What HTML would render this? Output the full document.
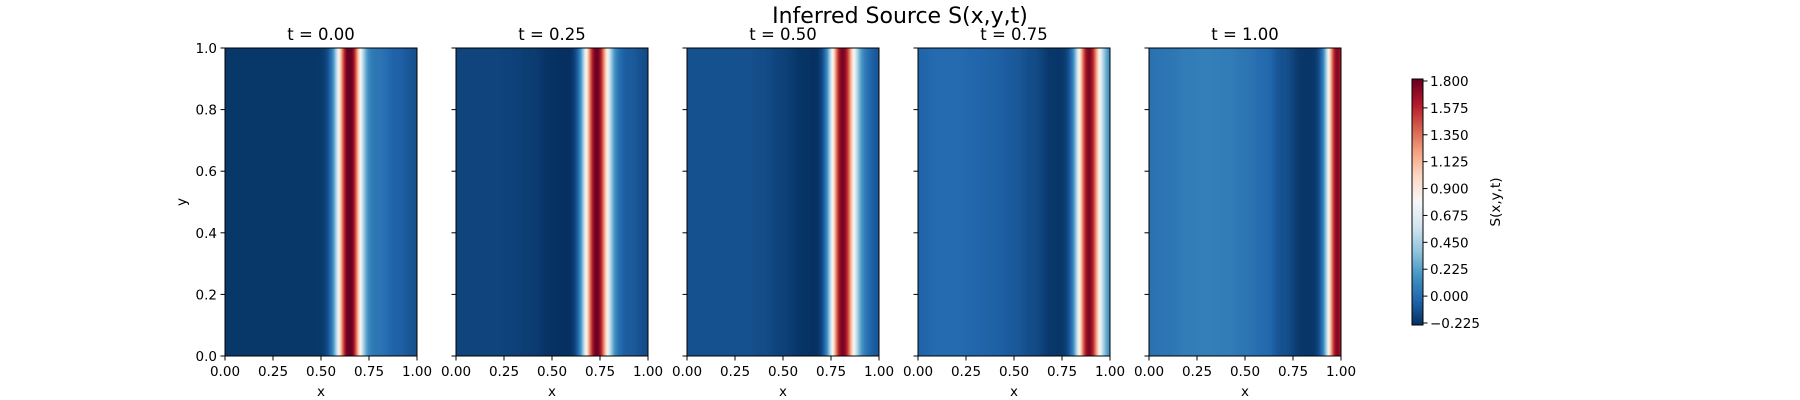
<!DOCTYPE html>
<html><head><meta charset="utf-8"><style>
html,body{margin:0;padding:0;background:#fff;}
#root{position:relative;width:1800px;height:400px;font-family:"DejaVu Sans","Liberation Sans",sans-serif;color:#000;}
.t{position:absolute;white-space:nowrap;}
canvas{position:absolute;}
</style></head><body>
<div id="root">
<div class="t" style="left:0;width:1800px;text-align:center;top:4px;font-size:22px;">Inferred Source S(x,y,t)</div>
<svg id="axes" width="1800" height="400" style="position:absolute;left:0;top:0"></svg>
</div>
<script>
// data
const times = [0.00, 0.25, 0.50, 0.75, 1.00];
const peakCenter = [0.645, 0.73, 0.81, 0.89, 0.98];
const peakAmp = [2.0, 1.95, 1.9, 1.85, 1.75];
const peakWidth = [0.045, 0.045, 0.045, 0.045, 0.04];
// baseline profiles sampled at x = 0,0.1,...,1.0
const baseline = [
  [-0.2,-0.2,-0.2,-0.2,-0.2,-0.2,-0.22,-0.02,0.04,-0.04,-0.1],
  [-0.15,-0.15,-0.15,-0.16,-0.18,-0.22,-0.24,-0.2,0.0,-0.06,-0.12],
  [-0.1,-0.1,-0.1,-0.1,-0.12,-0.16,-0.21,-0.24,-0.15,0.04,-0.08],
  [-0.03,0.0,0.0,-0.02,-0.04,-0.07,-0.12,-0.2,-0.22,-0.1,0.05],
  [0.03,0.05,0.08,0.09,0.08,0.05,0.0,-0.1,-0.2,-0.22,0.0]
];
const xTicks = [0.00,0.25,0.50,0.75,1.00];
const yTicks = [0.0,0.2,0.4,0.6,0.8,1.0];
const cbTicks = [-0.225,0.000,0.225,0.450,0.675,0.900,1.125,1.350,1.575,1.800];
const vmin = -0.225, vmax = 1.8;

const panelLeft = [225,456,687,918,1149];
const PW = 192, PT = 48, PH = 308;
const root = document.getElementById('root');
const svg = document.getElementById('axes');
const NS = 'http://www.w3.org/2000/svg';
const rdbu = ['#053061','#2166ac','#4393c3','#92c5de','#d1e5f0','#f7f7f7','#fddbc7','#f4a582','#d6604d','#b2182b','#67001f'];
function hex(h){return [parseInt(h.substr(1,2),16),parseInt(h.substr(3,2),16),parseInt(h.substr(5,2),16)];}
const stops = rdbu.map(hex);
function cmap(v){
  let f=(v-vmin)/(vmax-vmin); f=Math.max(0,Math.min(1,f));
  const p=f*10, i=Math.min(9,Math.floor(p)), r=p-i;
  const a=stops[i], b=stops[i+1];
  return [a[0]+(b[0]-a[0])*r, a[1]+(b[1]-a[1])*r, a[2]+(b[2]-a[2])*r];
}
function base(k,x){
  const p=x*10, i=Math.min(9,Math.floor(p)), r=p-i;
  const s=(1-Math.cos(r*Math.PI))/2;
  return baseline[k][i]*(1-s)+baseline[k][i+1]*s;
}
function S(k,x){
  const d=x-peakCenter[k];
  return base(k,x)+peakAmp[k]*Math.exp(-d*d/(2*peakWidth[k]*peakWidth[k]));
}
function el(tag,attrs){const e=document.createElementNS(NS,tag);for(const a in attrs)e.setAttribute(a,attrs[a]);svg.appendChild(e);return e;}
function txt(x,y,s,anchor,size,name){
  const e=el('text',{x:x,y:y,'text-anchor':anchor,'font-size':size,'font-family':'DejaVu Sans, Liberation Sans, sans-serif'});
  e.textContent=s;
  
  
  return e;
}
times.forEach((t,k)=>{
  const L=panelLeft[k];
  const xs=v=>L+v*PW, ys=v=>PT+PH-v*PH;
  const c=document.createElement('canvas');
  c.width=PW; c.height=PH;
  c.style.left=L+'px'; c.style.top=PT+'px';
  
  
  root.insertBefore(c, svg);
  const ctx=c.getContext('2d'); const img=ctx.createImageData(PW,PH);
  for(let px=0;px<PW;px++){
    const col=cmap(S(k,(px+0.5)/PW));
    for(let py=0;py<PH;py++){const o=(py*PW+px)*4;img.data[o]=col[0];img.data[o+1]=col[1];img.data[o+2]=col[2];img.data[o+3]=255;}
  }
  ctx.putImageData(img,0,0);
  const fr=el('rect',{x:L,y:PT,width:PW,height:PH,fill:'none',stroke:'#000','stroke-width':1});
  
  
  txt(L+PW/2,40,'t = '+t.toFixed(2),'middle',16.5,'panel-title');
  xTicks.forEach(v=>{
    const tk=el('line',{x1:xs(v),x2:xs(v),y1:PT+PH,y2:PT+PH+4.5,stroke:'#000','stroke-width':1});
    
    
    txt(xs(v),PT+PH+20,v.toFixed(2),'middle',13.5,'x-tick-label');
  });
  yTicks.forEach(v=>{
    const tk=el('line',{x1:L-4.5,x2:L,y1:ys(v),y2:ys(v),stroke:'#000','stroke-width':1});
    
    
    if(k===0) txt(L-8,ys(v)+5,v.toFixed(1),'end',13.5,'y-tick-label');
  });
  txt(L+PW/2,PT+PH+40,'x','middle',13.5,'x-axis-title');
});
const yt=txt(0,0,'y','middle',13.5,'y-axis-title');
yt.setAttribute('transform','translate(186,202) rotate(-90)');
// colorbar
const CL=1412, CW=11, CT=79, CH=246;
const cb=document.createElement('canvas');
cb.width=CW; cb.height=CH; cb.style.left=CL+'px'; cb.style.top=CT+'px';


root.insertBefore(cb, svg);
const cctx=cb.getContext('2d');
for(let py=0;py<CH;py++){const col=cmap(vmax-(py+0.5)/CH*(vmax-vmin));cctx.fillStyle='rgb('+col.map(Math.round).join(',')+')';cctx.fillRect(0,py,CW,1);}
const cbf=el('rect',{x:CL,y:CT,width:CW,height:CH,fill:'none',stroke:'#000','stroke-width':1});


const cy=v=>CT+CH-(v-vmin)/(vmax-vmin)*(CH-4)-2;
cbTicks.forEach(v=>{
  const tk=el('line',{x1:CL+CW,x2:CL+CW+4.5,y1:cy(v),y2:cy(v),stroke:'#000','stroke-width':1});
  
  
  txt(CL+CW+7,cy(v)+5,(v<0?'\u2212':'')+Math.abs(v).toFixed(3),'start',13.5,'colorbar-tick-label');
});
const cl=txt(0,0,'S(x,y,t)','middle',13.5,'colorbar-label');
cl.setAttribute('transform','translate(1500,202) rotate(-90)');
</script>
</body></html>
